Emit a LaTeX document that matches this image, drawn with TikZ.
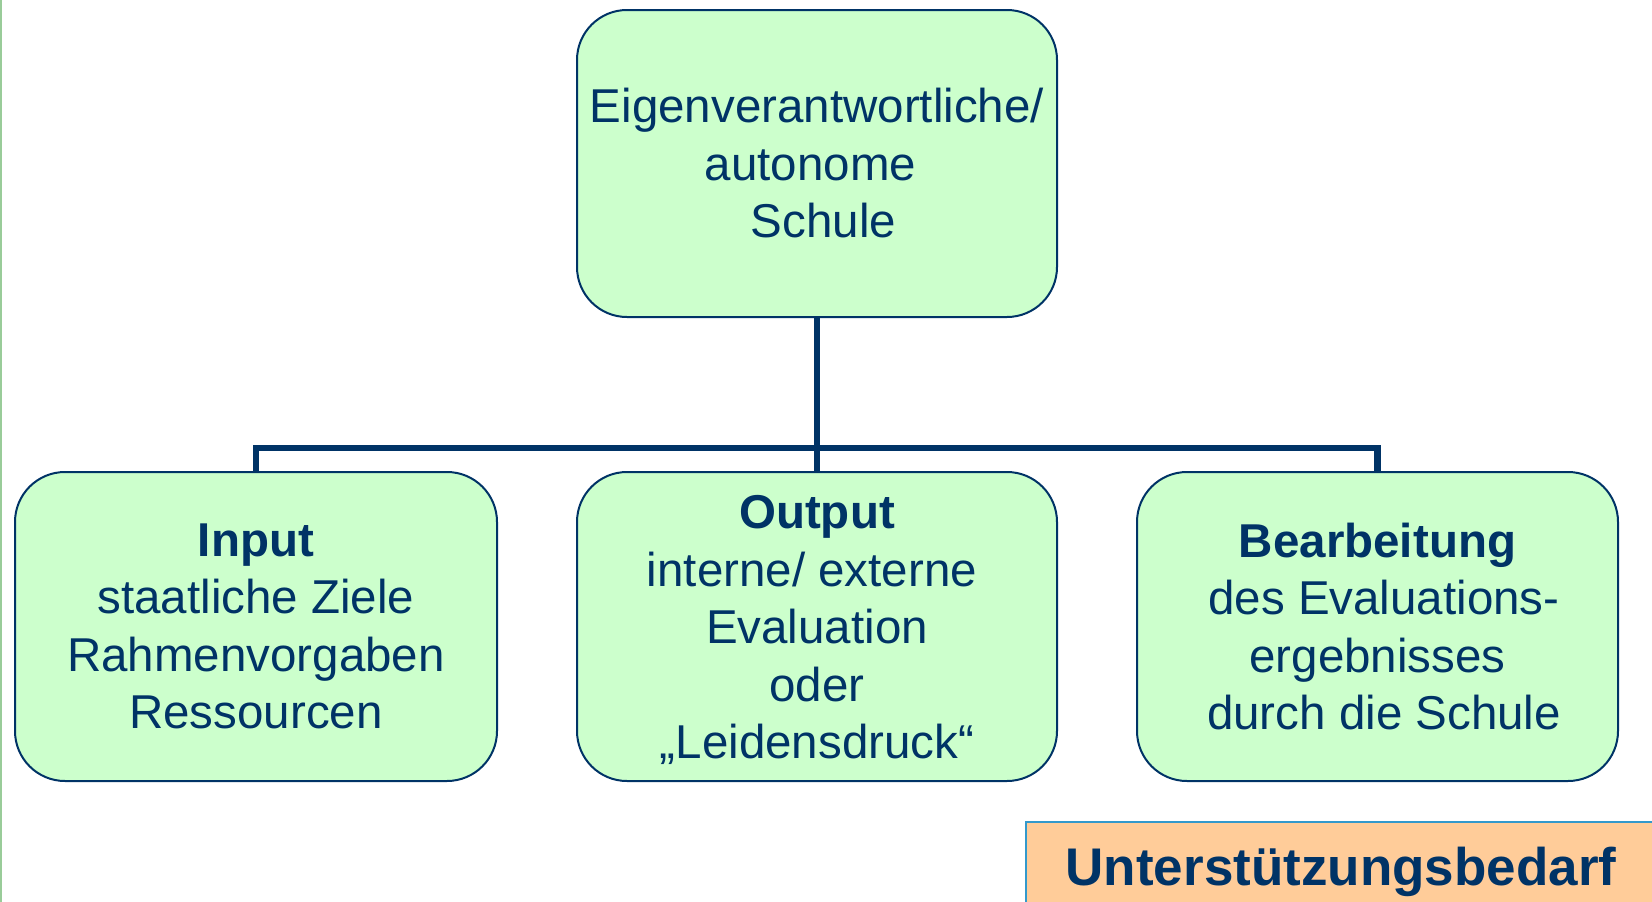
\documentclass[tikz,border=0pt]{standalone}
\usepackage{fontspec}
\setmainfont{Liberation Sans}
\definecolor{navy}{HTML}{003366}
\definecolor{boxgreen}{HTML}{CCFFCC}
\definecolor{peach}{HTML}{FFCC99}
\definecolor{edgeblue}{HTML}{3399CC}
\definecolor{sidegreen}{HTML}{99CC99}
\begin{document}
\begin{tikzpicture}[x=1pt,y=-1pt,
  box/.style={draw=navy, line width=2pt, fill=boxgreen, rounded corners=50pt,
    text=navy, align=center, font=\fontsize{47.5}{57.5}\selectfont, inner sep=0pt},
  conn/.style={draw=navy, line width=6.5pt},
  supportbox/.style={draw=edgeblue, line width=2.5pt, fill=peach, text=navy,
    font=\bfseries\fontsize{53}{60}\selectfont, inner sep=0pt}]
\useasboundingbox (0,0) rectangle (1652,902);
\clip (0,0) rectangle (1652,902);
\fill[white] (0,0) rectangle (1652,902);
\draw[sidegreen, line width=1.5pt] (0.75,0) -- (0.75,902);

\node[box, minimum width=480pt, minimum height=307pt] (top) at (817,163.5)
  {Eigenverantwortliche/\\autonome\rule{13pt}{0pt}\\\hspace*{13pt}Schule};

\node[box, minimum width=482pt, minimum height=309pt] (in) at (256,626.5)
  {\textbf{Input}\\staatliche Ziele\\Rahmenvorgaben\\Ressourcen};
\node[box, minimum width=480pt, minimum height=309pt] (out) at (817,626.5)
  {\rule{0pt}{41pt}\textbf{Output}\\interne/ externe\rule{10pt}{0pt}\\Evaluation\\oder\\„Leidensdruck“};
\node[box, minimum width=481pt, minimum height=309pt] (bear) at (1377.5,626.5)
  {\textbf{Bearbeitung}\\\hspace*{13pt}des Evaluations-\\ergebnisses\\\hspace*{13pt}durch die Schule};

\coordinate (bar) at (817,448);
\draw[conn] (top.south) -- (out.north);
\draw[conn] (in.north) |- (bar) -| (bear.north);

\node[supportbox, minimum width=630pt, minimum height=100pt] (support) at (1341,872)
  {Unterstützungsbedarf};
\end{tikzpicture}
\end{document}
